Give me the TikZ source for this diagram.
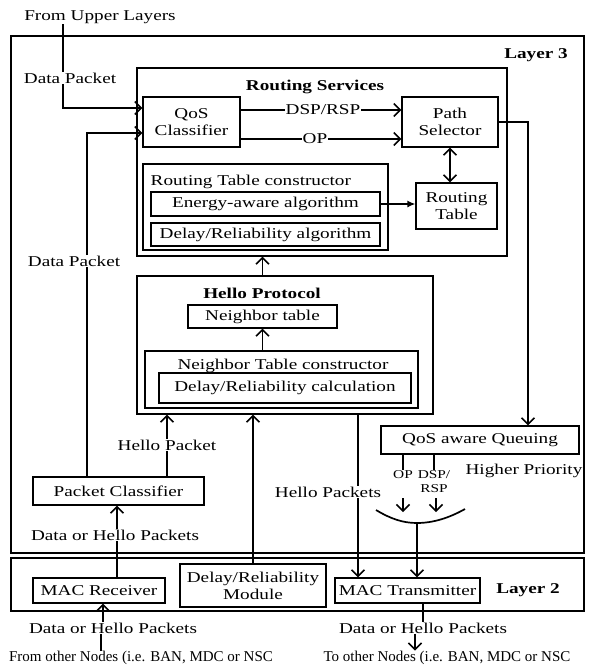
\documentclass[tikz,border=0pt]{standalone}
\usepackage{fontspec}
\setmainfont{Liberation Serif}[FakeStretch=1.28]
\newfontfamily\plainrm{Liberation Serif}
\usetikzlibrary{arrows.meta}
\begin{document}
\begin{tikzpicture}[x=1pt,y=-1pt,
  font=\fontsize{15}{17}\selectfont,
  box/.style={draw, line width=1.3pt, inner sep=0pt, align=center},
  ln/.style={line width=1.7pt},
  tip/.style={},
  arr/.style={ln, -{Straight Barb[length=6.5pt,width=13pt,line width=1.5pt]}},
  darr/.style={ln, {Straight Barb[length=6.5pt,width=13pt,line width=1.5pt]}-{Straight Barb[length=6.5pt,width=13pt,line width=1.5pt]}},
  farr/.style={line width=1.3pt, -{Latex[length=8pt,width=7pt]}},
  lbl/.style={inner sep=0.5pt, align=center},
  ttl/.style={font=\fontsize{15}{17}\selectfont\bfseries},
  sml/.style={font=\fontsize{12}{14}\selectfont},
  btm/.style={font=\fontsize{15}{17}\plainrm},
]
\fill[white] (0,0) rectangle (591,670);
\useasboundingbox (0,0) rectangle (591,670);

% layer frames
\node[box, minimum width=573pt, minimum height=517pt] (l3) at (297.5,294.5) {};
\node[box, minimum width=573pt, minimum height=53pt] (l2) at (297.5,584.5) {};
\node[lbl, ttl] (l3t) at (536,55) {Layer 3};
\node[lbl, ttl] (l2t) at (528,590) {Layer 2};

% routing services
\node[box, minimum width=370pt, minimum height=188pt] (rs) at (322,162) {};
\node[lbl, ttl] (rst) at (315,87) {Routing Services};
\node[box, minimum width=97pt, minimum height=50pt] (qos) at (191.5,122) {QoS\\Classifier};
\node[box, minimum width=96pt, minimum height=50pt] (path) at (450,122) {Path\\Selector};
\node[lbl] (dsp) at (323,110) {DSP/RSP};
\node[lbl] (op) at (315,139) {OP};
\node[box, minimum width=245pt, minimum height=86pt] (rtc) at (265.5,207) {};
\node[lbl, anchor=west] (rtcl) at (150,182) {Routing Table constructor};
\node[box, minimum width=229pt, minimum height=24pt] (energy) at (265.5,204) {Energy-aware algorithm};
\node[box, minimum width=229pt, minimum height=23pt] (dalg) at (265.5,234.5) {Delay/Reliability algorithm};
\node[box, minimum width=81pt, minimum height=46pt] (rt) at (456.5,206) {Routing\\Table};

% hello protocol
\node[box, minimum width=296pt, minimum height=138pt] (hp) at (285,345) {};
\node[lbl, ttl] (hpt) at (262,293) {Hello Protocol};
\node[box, minimum width=149pt, minimum height=23pt] (nt) at (262.5,316.5) {Neighbor table};
\node[box, minimum width=273pt, minimum height=57pt] (ntc) at (281.5,379.5) {};
\node[lbl] (ntcl) at (283,366) {Neighbor Table constructor};
\node[box, minimum width=252pt, minimum height=30pt] (drc) at (285,388) {Delay/Reliability calculation};

% queuing
\node[box, minimum width=198pt, minimum height=28pt] (qaq) at (480,440) {QoS aware Queuing};
\node[lbl, sml] (op2) at (403,475) {OP};
\node[lbl, sml] (dsp2) at (434,482) {DSP/\\RSP};
\node[lbl] (hip) at (524,471) {Higher Priority};

% packet classifier and labels
\node[box, minimum width=171pt, minimum height=28pt] (pc) at (118.5,491) {Packet Classifier};
\node[lbl] (hpk) at (167,445) {Hello Packet};
\node[lbl] (dp2) at (74,261) {Data Packet};
\node[lbl] (dhp1) at (115,535) {Data or Hello Packets};
\node[lbl] (hps) at (328,492) {Hello Packets};

% layer 2 boxes
\node[box, minimum width=132pt, minimum height=25pt] (macr) at (99,590.5) {MAC Receiver};
\node[box, minimum width=146pt, minimum height=43pt] (drm) at (253,585.5) {Delay/Reliability\\Module};
\node[box, minimum width=145pt, minimum height=25pt] (mact) at (407.5,590.5) {MAC Transmitter};

% outside texts
\node[lbl] (fromup) at (100,17) {From Upper Layers};
\node[lbl] (dp1) at (70,78) {Data Packet};
\node[lbl] (dhp2) at (113,628) {Data or Hello Packets};
\node[lbl] (dhp3) at (423,628) {Data or Hello Packets};
\node[lbl, btm] (fon) at (141,658) {From other Nodes (i.e. BAN, MDC or NSC};
\node[lbl, btm] (ton) at (447,658) {To other Nodes (i.e. BAN, MDC or NSC};

% helper coordinates
\coordinate (fu) at (63,24);
\coordinate (fuy) at (0,108);
\coordinate (dx) at (87,0);
\coordinate (dxy) at (0,133);
\coordinate (pq) at (528,124);
\coordinate (rx) at (117,0);
\coordinate (hx) at (358,0);
\coordinate (bx) at (103,0);
\coordinate (bl) at (101,0);
\coordinate (br) at (415,0);
\coordinate (opa) at (403,498);
\coordinate (dsa) at (436,498);
\coordinate (arw) at (0,512);
\coordinate (cl) at (376,510);
\coordinate (cm) at (417,523);
\coordinate (cr) at (465,509);

% connectors: top
\draw[ln] (fu) -- (dp1.north -| fu);
\draw[arr] (dp1.south -| fu) -- (fu |- fuy) -- (qos.west |- fuy);
\draw[ln] (qos.east |- dsp) -- (dsp.west);
\draw[arr] (dsp.east) -- (path.west |- dsp);
\draw[ln] (qos.east |- op) -- (op.west);
\draw[arr] (op.east) -- (path.west |- op);
\draw[darr] (path.south) -- (path.south |- rt.north);
\draw[farr] (energy.east) -- (rt.west |- energy.east);
\draw[arr] (hp.north -| nt.north) -- (rs.south -| nt.north);
\draw[arr] (ntc.north -| nt.south) -- (nt.south);
\draw[arr] (path.east) -- (path.east -| pq) -- (qaq.north -| pq);

% queuing outputs
\draw[ln] (qaq.south -| op2) -- (op2.north);
\draw[ln] (qaq.south -| dsp2) -- (dsp2.north);
\draw[arr] (opa) -- (opa |- arw);
\draw[arr] (dsa) -- (dsa |- arw);
\draw[ln] (cl) .. controls (391,519) and (403,523) .. (cm) .. controls (433,523) and (449,518) .. (cr);
\draw[arr] (cm) -- (cm |- mact.north);

% hello packets down
\draw[ln] (hp.south -| hx) -- (hps.north -| hx);
\draw[arr] (hps.south -| hx) -- (mact.north -| hx);
\draw[arr] (drm.north) -- (drm.north |- hp.south);

% packet classifier
\draw[ln] (pc.north -| hpk) -- (hpk.south);
\draw[arr] (hpk.north) -- (hpk.north |- hp.south);
\draw[ln] (pc.north -| dx) -- (dp2.south -| dx);
\draw[arr] (dp2.north -| dx) -- (dx |- dxy) -- (qos.west |- dxy);
\draw[arr] (dhp1.north -| rx) -- (pc.south -| rx);
\draw[ln] (macr.north -| rx) -- (dhp1.south -| rx);

% bottom
\draw[arr] (dhp2.north -| bx) -- (macr.south -| bx);
\draw[ln] (dhp2.south -| bl) -- (fon.north -| bl);
\draw[ln] (mact.south -| dhp3) -- (dhp3.north);
\draw[arr] (dhp3.south -| br) -- (ton.north -| br);
\end{tikzpicture}
\end{document}
